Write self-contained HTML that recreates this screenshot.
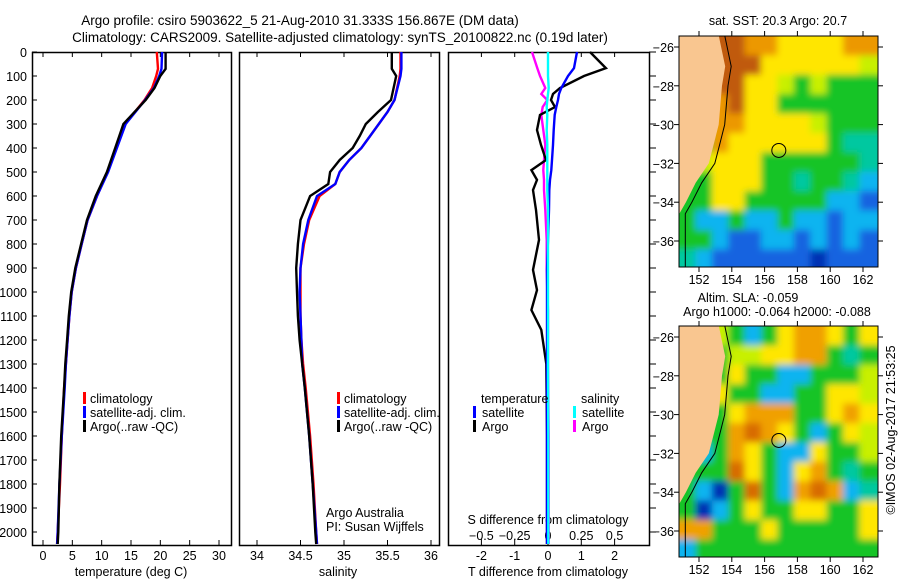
<!DOCTYPE html>
<html><head><meta charset="utf-8"><style>
body{margin:0;background:#fff;}
svg{display:block;font-family:"Liberation Sans",sans-serif;}
text{font-size:12.5px;fill:#000;}
</style></head><body>
<svg id="c" width="900" height="580" xmlns="http://www.w3.org/2000/svg">
<defs>
<filter id="blur" x="-5%" y="-5%" width="110%" height="110%"><feGaussianBlur stdDeviation="3.5"/></filter>
<clipPath id="clipSst"><rect x="679" y="36" width="199" height="231"/></clipPath>
<clipPath id="clipSla"><rect x="679" y="326" width="199" height="231"/></clipPath>
</defs>
<text x="300" y="25" text-anchor="middle" style="font-size:13.5px">Argo profile: csiro 5903622_5 21-Aug-2010 31.333S 156.867E (DM data)</text>
<text x="340" y="42" text-anchor="middle" style="font-size:13.5px">Climatology: CARS2009. Satellite-adjusted climatology: synTS_20100822.nc (0.19d later)</text>
<g id="g"></g>
</svg>
<script>
// ---- data ----
const depthTicks=[0,100,200,300,400,500,600,700,800,900,1000,1100,1200,1300,1400,1500,1600,1700,1800,1900,2000];
const tempTicks=[0,5,10,15,20,25,30];
const salTicks=[34,34.5,35,35.5,36];
const tdTicks=[-2,-1,0,1,2];
const sdTicks=[-0.5,-0.25,0,0.25,0.5];
const profDepth=[0,70,100,150,200,300,400,500,600,700,800,900,1000,1100,1200,1300,1400,1600,1800,2000,2050];
const tempArgo=[20.9,20.9,20.0,19.0,17.5,13.7,12.3,10.9,9.0,7.5,6.5,5.5,4.8,4.4,4.1,3.8,3.6,3.1,2.8,2.6,2.5];
const tempClim=[19.4,19.6,19.3,18.6,17.3,14.0,12.5,11.0,9.2,7.6,6.6,5.6,4.9,4.5,4.2,3.9,3.6,3.2,2.9,2.5,2.4];
const tempSat=[20.3,20.2,19.8,18.9,17.4,14.1,12.6,11.1,9.2,7.6,6.6,5.6,4.9,4.5,4.2,3.9,3.7,3.2,2.8,2.5,2.4];
const salDepth=[0,70,100,200,250,300,350,400,450,500,550,600,700,800,900,1000,1100,1200,1300,1400,1600,1800,2000,2050];
const salArgo=[35.55,35.55,35.6,35.54,35.39,35.25,35.18,35.1,34.95,34.84,34.82,34.61,34.5,34.47,34.45,34.46,34.47,34.49,34.52,34.55,34.6,34.64,34.67,34.68];
const salClim=[35.65,35.65,35.64,35.58,35.5,35.4,35.3,35.2,35.06,34.95,34.9,34.72,34.6,34.54,34.5,34.5,34.5,34.51,34.53,34.56,34.61,34.65,34.68,34.69];
const salSat=[35.66,35.66,35.65,35.58,35.5,35.4,35.3,35.2,35.06,34.95,34.9,34.69,34.59,34.53,34.5,34.49,34.5,34.51,34.52,34.55,34.6,34.64,34.68,34.69];
const diffDepth=[0,67,100,150,175,200,229,262,325,387,450,492,533,575,658,783,908,992,1075,1158,1300,1600,2050];
const tdArgo=[1.26,1.74,1.08,0.36,0.15,0.09,0.21,-0.24,-0.33,-0.21,-0.06,-0.5,-0.33,-0.45,-0.36,-0.27,-0.45,-0.33,-0.5,-0.2,-0.05,-0.03,-0.03];
const tdSat=[0.87,0.78,0.6,0.4,0.33,0.3,0.25,0.2,0.17,0.15,0.12,0.1,0.06,0.04,0.03,0.0,-0.03,-0.03,-0.03,-0.03,-0.03,-0.03,-0.03];
const sdArgo=[-0.12,-0.08,-0.06,-0.02,-0.05,-0.005,-0.04,-0.05,-0.035,-0.02,-0.03,-0.035,-0.03,-0.03,-0.02,-0.01,-0.01,-0.005,0,0,0,0.005,0.005];
const sdSat=[0,0,0,0.005,0,-0.005,-0.01,-0.005,-0.01,-0.005,-0.005,-0.005,-0.005,-0.005,0,0,0,0,0,0,0,0.002,0.002];
const lonTicks=[152,154,156,158,160,162];
const latTicks=[-26,-28,-30,-32,-34,-36];
const sstGrid=["LLrrooyyyyoo","LLrrryyyyyyl","LLrryylglggg","LLoryygggggg","LLooyyyylggg","LLoyyyyyygtt","Llyyyggggggt","Lgyyyggtggtc","ggyygggggccb","gccgccgccbcc","ggcbbccbcbcb","tcbbbbbbdbbb"];
const slaGrid=["LLlgcgyooygy","LLgllyyoogtg","LLgyggccgggl","LLyggccggyyl","LLgyoooggyoy","LLgoroygcgyl","Lcgoygccyggl","gggrygcyogtg","gcdgrgcoroct","gdcgyggyyggy","oogggygggggy","cggggggggggg"];
const coastLon=[153.2,153.6,153.4,153.2,152.9,152.6,151.8,151.2,150.8,150.8];
const coastLat=[-25.4,-27,-28,-30,-31,-32,-33,-34,-34.6,-37.4];
const argoLon=156.867, argoLat=-31.333;
// ---- helpers ----
const NS="http://www.w3.org/2000/svg";
const G=document.getElementById('g');
function el(t,a,txt,parent){const e=document.createElementNS(NS,t);for(const k in a)e.setAttribute(k,a[k]);if(txt!==undefined&&txt!==null)e.textContent=txt;(parent||G).appendChild(e);return e;}
const PY0=52,PY1=545;
const yD=d=>52+d*0.24;
const xT=v=>43+v*(176/30);
const xS=v=>257+(v-34)*87;
const xTD=v=>548+v*33.3;
const xSD=v=>548+v*133.2;
function frame(x0,x1,name){const r=el('rect',{x:x0+0.5,y:PY0+0.5,width:x1-x0,height:PY1-PY0,fill:'none',stroke:'#000','stroke-width':1.5});}
function line(xs,ds,xf,col,name,w){const p=xs.map((v,i)=>xf(v).toFixed(1)+','+yD(ds[i]).toFixed(1)).join(' ');const e=el('polyline',{points:p,fill:'none',stroke:col,'stroke-width':w||2.4});}
function txt(x,y,s,anchor,name,extra){const e=el('text',Object.assign({x:x,y:y,'text-anchor':anchor||'start'},extra||{}),s);return e;}
function tick(x1,y1,x2,y2){el('line',{x1:x1,y1:y1,x2:x2,y2:y2,stroke:'#000','stroke-width':1});}
function legTick(x,y,col){el('rect',{x:x,y:y-6,width:3,height:12,fill:col});}
// panels
frame(32,231,'temperature-panel');frame(239,439,'salinity-panel');frame(448,649,'difference-panel');
depthTicks.forEach(d=>{tick(32,yD(d),37,yD(d));tick(649,yD(d),656,yD(d));txt(27,yD(d)+5,String(d),'end','y-tick-label');});
tempTicks.forEach(v=>{tick(xT(v),PY0,xT(v),PY0+5);tick(xT(v),PY1,xT(v),PY1-5);txt(xT(v),560,String(v),'middle','x-tick-temperature');});
salTicks.forEach(v=>{tick(xS(v),PY0,xS(v),PY0+5);tick(xS(v),PY1,xS(v),PY1-5);txt(xS(v),560,String(v),'middle','x-tick-salinity');});
tdTicks.forEach(v=>{tick(xTD(v),PY0,xTD(v),PY0+5);tick(xTD(v),PY1,xTD(v),PY1-6);txt(xTD(v),560,String(v),'middle','x-tick-t-diff');});
sdTicks.forEach(v=>{txt(xSD(v),540,String(v).replace('-','\u2212'),'middle','x-tick-s-diff');});
txt(131,576,'temperature (deg C)','middle','x-axis-title-temperature');
txt(338,576,'salinity','middle','x-axis-title-salinity');
txt(548,576,'T difference from climatology','middle','x-axis-title-t-diff');
txt(548,524,'S difference from climatology','middle','x-axis-title-s-diff');
// profiles
line(tempClim,profDepth,xT,'#ff0000','temp-climatology-line');
line(tempSat,profDepth,xT,'#0000ff','temp-satellite-line');
line(tempArgo,profDepth,xT,'#000000','temp-argo-line');
line(salClim,salDepth,xS,'#ff0000','sal-climatology-line');
line(salSat,salDepth,xS,'#0000ff','sal-satellite-line');
line(salArgo,salDepth,xS,'#000000','sal-argo-line');
line(sdArgo,diffDepth,xSD,'#ff00ff','s-diff-argo-line');
line(tdArgo,diffDepth,xTD,'#000000','t-diff-argo-line');
line(tdSat,diffDepth,xTD,'#0000ff','t-diff-satellite-line');
line(sdSat,diffDepth,xSD,'#00ffff','s-diff-satellite-line');
// legends
[['climatology','#ff0000'],['satellite-adj. clim.','#0000ff'],['Argo(..raw -QC)','#000000']].forEach((l,i)=>{
 legTick(83,398+i*14,l[1]);txt(90,403+i*14,l[0],'start','legend-entry-temp');
 legTick(337,398+i*14,l[1]);txt(344,403+i*14,l[0],'start','legend-entry-sal');});
txt(481,403,'temperature','start','legend-title-temperature');
txt(581,403,'salinity','start','legend-title-salinity');
legTick(473,412,'#0000ff');txt(482,417,'satellite','start','legend-entry-t-satellite');
legTick(473,426,'#000000');txt(482,431,'Argo','start','legend-entry-t-argo');
legTick(573,412,'#00ffff');txt(582,417,'satellite','start','legend-entry-s-satellite');
legTick(573,426,'#ff00ff');txt(582,431,'Argo','start','legend-entry-s-argo');
txt(326,517,'Argo Australia','start','credit-argo-australia');
txt(326,531,'PI: Susan Wijffels','start','credit-pi');
// maps
const pal={r:'#c05a10',o:'#ec9800',y:'#ffe600',l:'#c8f000',g:'#18c428',t:'#00c8a0',c:'#10b4f0',b:'#1464e0',d:'#0030b4',L:'#f9c690'};
const palSla=Object.assign({},pal,{r:'#d86c00',o:'#f0a000'});
function map(y0,y1,latTop,pxLat,grid,pp,name,clipId){
 const x0=679,x1=878;const xL=v=>699+(v-152)*16.4;const yL=v=>y0+11+(-26-v)*pxLat;
 const lonL=(x0-699)/16.4+152;
 const outer=el('g',{'clip-path':'url(#'+clipId+')'});
 const cg=el('g',{filter:'url(#blur)'},null,outer);
 grid.forEach((row,ri)=>{[...row].forEach((ch,ci)=>{
  const lo=lonL+ci,la=latTop-ri;const xa=xL(lo),xb=xL(lo+1)+(ci==row.length-1?20:0),ya=yL(la)-(ri==0?20:0),yb=yL(la-1)+(ri==grid.length-1?20:0);
  const r=el('rect',{x:xa-(ci==0?20:0),y:ya,width:xb-xa+0.5+(ci==0?20:0),height:yb-ya+0.5,fill:pp[ch==='L'?'g':ch]},null,cg);
  });});
 let pts=(x0-2)+','+(y0-2)+' ';coastLon.forEach((v,i)=>{pts+=xL(v).toFixed(1)+','+Math.min(yL(coastLat[i]),y1+2).toFixed(1)+' ';});pts+=(x0-2)+','+(y1+2);
 const land=el('polygon',{points:pts,fill:pal.L},null,outer);
 const sh=el('polyline',{points:coastLon.map((v,i)=>(xL(v)+6).toFixed(1)+','+Math.min(yL(coastLat[i]),y1).toFixed(1)).join(' '),fill:'none',stroke:'#000','stroke-width':1},null,outer);
 
 const c=el('circle',{cx:xL(argoLon),cy:yL(argoLat),r:7,fill:'none',stroke:'#000','stroke-width':1});
 
 const f=el('rect',{x:x0,y:y0,width:x1-x0,height:y1-y0,fill:'none',stroke:'#000','stroke-width':1});
 lonTicks.forEach(v=>{tick(xL(v),y0,xL(v),y0-5);tick(xL(v),y1,xL(v),y1+5);txt(xL(v),y1+17,String(v),'middle','map-lon-label');});
 latTicks.forEach(v=>{tick(x0,yL(v),x0-5,yL(v));tick(x1,yL(v),x1+5,yL(v));txt(674,yL(v)+5,String(v).replace('-','\u2212'),'end','map-lat-label');});
}
map(36,267,-25.43,19.4,sstGrid,pal,'sst-map','clipSst');
map(326,557,-25.43,19.4,slaGrid,palSla,'sla-map','clipSla');
txt(778,25,'sat. SST: 20.3 Argo: 20.7','middle','sst-map-title');
txt(748,302,'Altim. SLA: -0.059','middle','sla-map-title');
txt(777,316,'Argo h1000: -0.064 h2000: -0.088','middle','sla-map-subtitle');
txt(0,0,'\u00a9IMOS 02-Aug-2017 21:53:25','middle','timestamp',{transform:'translate(895,430) rotate(-90)'});
</script>
</body></html>
